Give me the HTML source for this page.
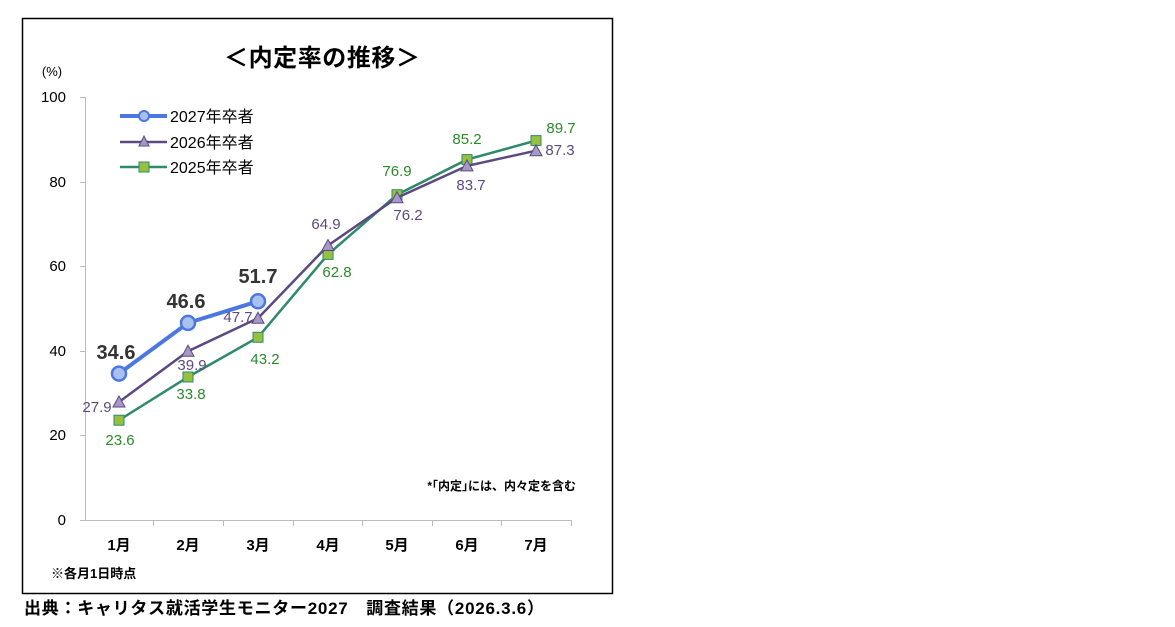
<!DOCTYPE html>
<html><head><meta charset="utf-8"><style>
body{margin:0;background:#fff;width:1175px;height:627px;overflow:hidden}
svg{display:block;font-family:"Liberation Sans","Noto Sans CJK JP",sans-serif}
</style></head><body>
<svg width="1175" height="627" viewBox="0 0 1175 627">
<rect x="22.5" y="18.5" width="590" height="575" fill="#fff" stroke="#000" stroke-width="1.5"/>
<text x="322" y="66" font-size="24" font-weight="bold" text-anchor="middle" fill="#000" textLength="196">＜内定率の推移＞</text>
<text x="52" y="76" font-size="13" text-anchor="middle" fill="#000">(%)</text>
<g font-size="15" text-anchor="end" fill="#000">
<text x="66" y="102">100</text><text x="66" y="187">80</text><text x="66" y="271">60</text><text x="66" y="356">40</text><text x="66" y="440">20</text><text x="66" y="525">0</text>
</g>
<g stroke="#bbb" stroke-width="1" fill="none">
<path d="M85.5 97V520.5H571"/>
<path d="M80 97.5H85M80 182.5H85M80 266.5H85M80 351.5H85M80 435.5H85M80 520.5H85"/>
<path d="M153.5 520v6M223.5 520v6M293.5 520v6M362.5 520v6M432.5 520v6M501.5 520v6M571.5 520v6"/>
</g>
<g font-size="15" font-weight="bold" text-anchor="middle" fill="#000">
<text x="119" y="550">1月</text><text x="188" y="550">2月</text><text x="258" y="550">3月</text><text x="328" y="550">4月</text><text x="397" y="550">5月</text><text x="467" y="550">6月</text><text x="536" y="550">7月</text>
</g>
<text x="51" y="578" font-size="13" font-weight="bold" fill="#000">※各月1日時点</text>
<text x="576" y="490" font-size="12" font-weight="bold" text-anchor="end" fill="#000">*｢内定｣には、内々定を含む</text>
<text x="24" y="614" font-size="17" font-weight="bold" fill="#000" textLength="520">出典：キャリタス就活学生モニター2027　調査結果（2026.3.6）</text>
<!-- legend -->
<line x1="120" y1="116" x2="167" y2="116" stroke="#4a78e0" stroke-width="4"/><circle cx="144" cy="116" r="5" fill="#aac0f0" stroke="#4a78e0" stroke-width="2"/>
<line x1="120" y1="142" x2="167" y2="142" stroke="#5a4a80" stroke-width="2.5"/><path d="M144 136L149 146H139Z" fill="#a898c8" stroke="#5a4a80"/>
<line x1="120" y1="167" x2="167" y2="167" stroke="#2e8a6a" stroke-width="2.5"/><rect x="139" y="162" width="10" height="10" fill="#98c040" stroke="#2e8a6a"/>
<g font-size="16" fill="#000"><text x="170" y="122">2027年卒者</text><text x="170" y="148">2026年卒者</text><text x="170" y="173">2025年卒者</text></g>
<!-- 2025 -->
<polyline points="119,420.2 188,377 258,337.3 328,254.4 397,194.7 467,159.6 536,140.6" fill="none" stroke="#2e8a6a" stroke-width="2.5"/>
<g fill="#98c040" stroke="#2e8a6a" stroke-width="1">
<rect x="114" y="415.2" width="10" height="10"/><rect x="183" y="372" width="10" height="10"/><rect x="253" y="332.3" width="10" height="10"/><rect x="323" y="249.4" width="10" height="10"/><rect x="392" y="189.7" width="10" height="10"/><rect x="462" y="154.6" width="10" height="10"/><rect x="531" y="135.6" width="10" height="10"/>
</g>
<!-- 2026 -->
<polyline points="119,402 188,351.2 258,318.2 328,245.5 397,197.7 467,165.9 536,150.7" fill="none" stroke="#5a4a80" stroke-width="2.5"/>
<g fill="#a898c8" stroke="#5a4a80" stroke-width="1">
<path d="M119 396L125 407H113Z"/><path d="M188 345.2L194 356.2H182Z"/><path d="M258 312.2L264 323.2H252Z"/><path d="M328 239.5L334 250.5H322Z"/><path d="M397 191.7L403 202.7H391Z"/><path d="M467 159.9L473 170.9H461Z"/><path d="M536 144.7L542 155.7H530Z"/>
</g>
<!-- 2027 -->
<polyline points="119,373.6 188,322.9 258,301.3" fill="none" stroke="#4a78e0" stroke-width="4"/>
<g fill="#aac0f0" stroke="#4a78e0" stroke-width="2.5">
<circle cx="119" cy="373.6" r="7"/><circle cx="188" cy="322.9" r="7"/><circle cx="258" cy="301.3" r="7"/>
</g>
<g font-size="15" text-anchor="middle" fill="#5a4a80">
<text x="97" y="412">27.9</text><text x="192" y="370">39.9</text><text x="238" y="322">47.7</text><text x="326" y="229">64.9</text><text x="408" y="220">76.2</text><text x="471" y="190">83.7</text><text x="560" y="155">87.3</text>
</g>
<g font-size="15" text-anchor="middle" fill="#2a8a2a">
<text x="120" y="445">23.6</text><text x="191" y="399">33.8</text><text x="265" y="364">43.2</text><text x="337" y="277">62.8</text><text x="397" y="176">76.9</text><text x="467" y="144">85.2</text><text x="561" y="133">89.7</text>
</g>
<g font-size="20" font-weight="bold" text-anchor="middle" fill="#333">
<text x="116" y="359">34.6</text><text x="186" y="308">46.6</text><text x="258" y="283">51.7</text>
</g>
</svg>
</body></html>
